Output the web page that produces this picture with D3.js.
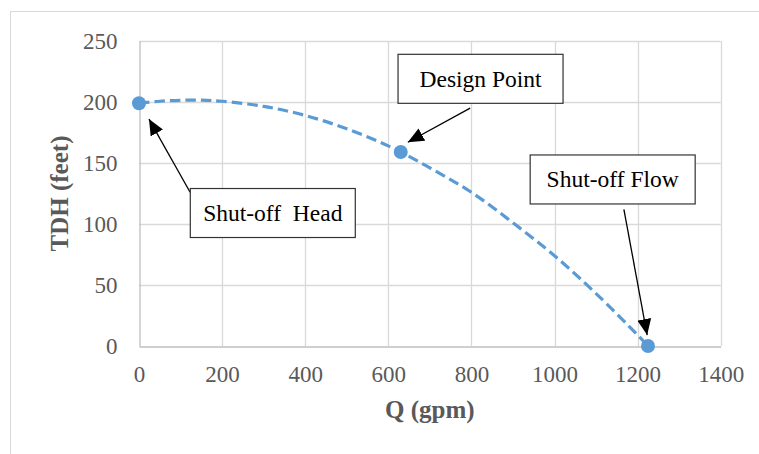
<!DOCTYPE html>
<html>
<head>
<meta charset="utf-8">
<script src="https://cdn.jsdelivr.net/npm/d3@7"></script>
<style>
  body { margin: 0; background: #fff; }
</style>
</head>
<body>
<svg id="chart" width="759" height="454"></svg>
<script>
// pump curve
const curveQ = [0, 50, 100, 150, 200, 300, 400, 500, 600, 700, 800, 900, 1000, 1100, 1200, 1225];
const curveH = [199, 200.6, 201.4, 201.5, 200.6, 196.4, 189, 178, 164, 146, 126, 101, 74, 43, 9, 0];

// marked points: shut-off head, design point, shut-off flow
const pointQ = [0, 630, 1225];
const pointH = [199, 159, 0];

const xTicks = [0, 200, 400, 600, 800, 1000, 1200, 1400];
const yTicks = [0, 50, 100, 150, 200, 250];

// callouts (box centre, arrow start, arrow tip, in data units)
const annoText = ["Shut-off  Head", "Design Point", "Shut-off Flow"];
const annoBoxQ = [322, 822, 1140];
const annoBoxH = [109, 219, 136.5];
const annoFromQ = [123, 797, 1167];
const annoFromH = [126, 195, 112];
const annoTipQ = [24, 647, 1223];
const annoTipH = [186, 167, 9];

const serif = "'Times New Roman', 'Liberation Serif', Times, serif";
const svg = d3.select("#chart");
const grey = "#595959";
const gridColor = "#d9d9d9";

// chart frame (only left and top edges fall inside the picture)
svg.append("rect")
    .attr("x", 10.5).attr("y", 11.5)
    .attr("width", 800).attr("height", 500)
    .attr("fill", "none")
    .attr("stroke", gridColor);

const x = d3.scaleLinear().domain([0, 1400]).range([139, 720.7]);
const y = d3.scaleLinear().domain([0, 250]).range([346, 41]);

// gridlines
svg.append("g").selectAll("line")
    .data(xTicks.slice(1))
    .join("line")
    .attr("x1", d => Math.round(x(d)) + 0.5).attr("x2", d => Math.round(x(d)) + 0.5)
    .attr("y1", y(250)).attr("y2", y(0))
    .attr("stroke", gridColor).attr("stroke-width", 1.3);

svg.append("g").selectAll("line")
    .data(yTicks.slice(1))
    .join("line")
    .attr("x1", x(0)).attr("x2", x(1400))
    .attr("y1", d => Math.round(y(d)) + 0.5).attr("y2", d => Math.round(y(d)) + 0.5)
    .attr("stroke", gridColor).attr("stroke-width", 1.3);

// axes
const xAxis = svg.append("g")
    .attr("transform", "translate(0," + (Math.round(y(0)) + 0.5) + ")")
    .call(d3.axisBottom(x).tickValues(xTicks).tickFormat(d3.format("d")).tickSize(0).tickPadding(14));
const yAxis = svg.append("g")
    .attr("transform", "translate(" + (Math.round(x(0)) + 0.5) + ",0)")
    .call(d3.axisLeft(y).tickValues(yTicks).tickFormat(d3.format("d")).tickSize(0).tickPadding(22));

[xAxis, yAxis].forEach(function(ax) {
    ax.attr("font-family", serif).attr("font-size", 23);
    ax.select(".domain").attr("stroke", "#bfbfbf").attr("stroke-width", 1.3);
    ax.selectAll("text").attr("fill", grey);
});
xAxis.selectAll("text").attr("dy", "0.95em");
yAxis.selectAll("text").attr("dy", "0.33em");

// axis titles
svg.append("text")
    .attr("x", (x(0) + x(1400)) / 2).attr("y", 418)
    .attr("text-anchor", "middle")
    .attr("fill", grey).attr("font-weight", "bold")
    .attr("font-family", serif).attr("font-size", 25)
    .text("Q (gpm)");

svg.append("text")
    .attr("transform", "translate(68," + (y(0) + y(250)) / 2 + ") rotate(-90)")
    .attr("text-anchor", "middle")
    .attr("fill", grey).attr("font-weight", "bold")
    .attr("font-family", serif).attr("font-size", 25)
    .text("TDH (feet)");

// pump curve
const line = d3.line()
    .x(d => x(d[0]))
    .y(d => y(d[1]))
    .curve(d3.curveCatmullRom);

svg.append("path")
    .datum(curveQ.map((q, i) => [q, curveH[i]]))
    .attr("d", line)
    .attr("fill", "none")
    .attr("stroke", "#5b9bd5")
    .attr("stroke-width", 3.2)
    .attr("stroke-dasharray", "10.5,5");

svg.append("g").selectAll("circle")
    .data(pointQ.map((q, i) => [q, pointH[i]]))
    .join("circle")
    .attr("cx", d => x(d[0]))
    .attr("cy", d => y(d[1]))
    .attr("r", 7)
    .attr("fill", "#5b9bd5");

// arrowhead
svg.append("defs").append("marker")
    .attr("id", "arrow")
    .attr("viewBox", "0 0 16 14")
    .attr("refX", 16).attr("refY", 7)
    .attr("markerWidth", 16).attr("markerHeight", 14)
    .attr("markerUnits", "userSpaceOnUse")
    .attr("orient", "auto")
    .append("path")
    .attr("d", "M0,0 L16,7 L0,14 Z")
    .attr("fill", "#000");

// callouts
const boxW = 165, boxH = 49;
const anno = svg.append("g").selectAll("g")
    .data(annoText.map((t, i) => ({ t: t, i: i })))
    .join("g");

anno.append("line")
    .attr("x1", d => x(annoFromQ[d.i])).attr("y1", d => y(annoFromH[d.i]))
    .attr("x2", d => x(annoTipQ[d.i])).attr("y2", d => y(annoTipH[d.i]))
    .attr("stroke", "#000").attr("stroke-width", 1.3)
    .attr("marker-end", "url(#arrow)");

anno.append("rect")
    .attr("x", d => x(annoBoxQ[d.i]) - boxW / 2)
    .attr("y", d => y(annoBoxH[d.i]) - boxH / 2)
    .attr("width", boxW).attr("height", boxH)
    .attr("fill", "#fff")
    .attr("stroke", "#333").attr("stroke-width", 1.2);

anno.append("text")
    .attr("x", d => x(annoBoxQ[d.i]))
    .attr("y", d => y(annoBoxH[d.i]))
    .attr("dy", "0.33em")
    .attr("text-anchor", "middle")
    .attr("fill", "#000")
    .attr("font-family", serif).attr("font-size", 23.5)
    .style("white-space", "pre")
    .text(d => d.t);
</script>
</body>
</html>
